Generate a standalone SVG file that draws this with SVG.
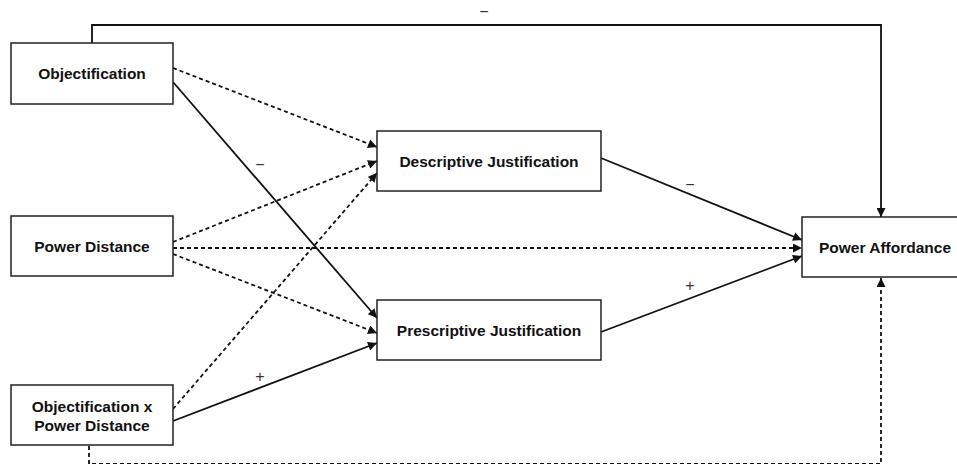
<svg xmlns="http://www.w3.org/2000/svg" width="957" height="464" viewBox="0 0 957 464">
<defs>
<style>
.box{fill:#fff;stroke:#222;stroke-width:1.5}
.lbl{font-family:"Liberation Sans",Arial,sans-serif;font-weight:bold;font-size:15.5px;fill:#111;text-anchor:middle}
.sgn{font-family:"Liberation Sans",Arial,sans-serif;font-size:16px;fill:#333;text-anchor:middle}
.solid{fill:none;stroke:#111;stroke-width:1.8}
.dot{fill:none;stroke:#111;stroke-width:1.8;stroke-dasharray:4 3}
</style>
<marker id="ah" viewBox="0 0 10 10" refX="10" refY="5" markerWidth="10" markerHeight="9" markerUnits="userSpaceOnUse" orient="auto">
<path d="M0,0 L10,5 L0,10 z" fill="#111"/>
</marker>
</defs>
<rect width="957" height="464" fill="#fff"/>
<g id="connectors">
<polyline class="solid" points="92,43 92,25 881,25 881,217" marker-end="url(#ah)"/>
<polyline class="dot" points="89,446 89,464 881,464 881,278" marker-end="url(#ah)"/>
<line class="dot" x1="173" y1="68" x2="377" y2="147" marker-end="url(#ah)"/>
<line class="solid" x1="173" y1="82" x2="377" y2="318" marker-end="url(#ah)"/>
<line class="dot" x1="173" y1="242" x2="377" y2="161" marker-end="url(#ah)"/>
<line class="dot" x1="173" y1="248" x2="802" y2="248" marker-end="url(#ah)"/>
<line class="dot" x1="173" y1="254" x2="377" y2="333" marker-end="url(#ah)"/>
<line class="dot" x1="173" y1="409" x2="377" y2="173" marker-end="url(#ah)"/>
<line class="solid" x1="173" y1="421" x2="377" y2="343" marker-end="url(#ah)"/>
<line class="solid" x1="601" y1="158" x2="802" y2="240" marker-end="url(#ah)"/>
<line class="solid" x1="601" y1="332" x2="802" y2="256" marker-end="url(#ah)"/>
</g>
<g id="signs">
<text class="sgn" x="484" y="17">−</text>
<text class="sgn" x="260" y="170">−</text>
<text class="sgn" x="260" y="382">+</text>
<text class="sgn" x="690" y="190">−</text>
<text class="sgn" x="690" y="291">+</text>
</g>
<g id="objectification">
<rect class="box" x="11" y="43" width="162" height="61"/>
<text class="lbl" x="92" y="79">Objectification</text>
</g>
<g id="power-distance">
<rect class="box" x="11" y="216" width="162" height="60"/>
<text class="lbl" x="92" y="252">Power Distance</text>
</g>
<g id="interaction">
<rect class="box" x="11" y="385" width="162" height="60"/>
<text class="lbl" x="92" y="412">Objectification x</text>
<text class="lbl" x="92" y="431">Power Distance</text>
</g>
<g id="descriptive">
<rect class="box" x="377" y="131" width="224" height="60"/>
<text class="lbl" x="489" y="167">Descriptive Justification</text>
</g>
<g id="prescriptive">
<rect class="box" x="377" y="300" width="224" height="60"/>
<text class="lbl" x="489" y="336">Prescriptive Justification</text>
</g>
<g id="power-affordance">
<rect class="box" x="802" y="217" width="166" height="60"/>
<text class="lbl" x="885" y="253">Power Affordance</text>
</g>
</svg>
